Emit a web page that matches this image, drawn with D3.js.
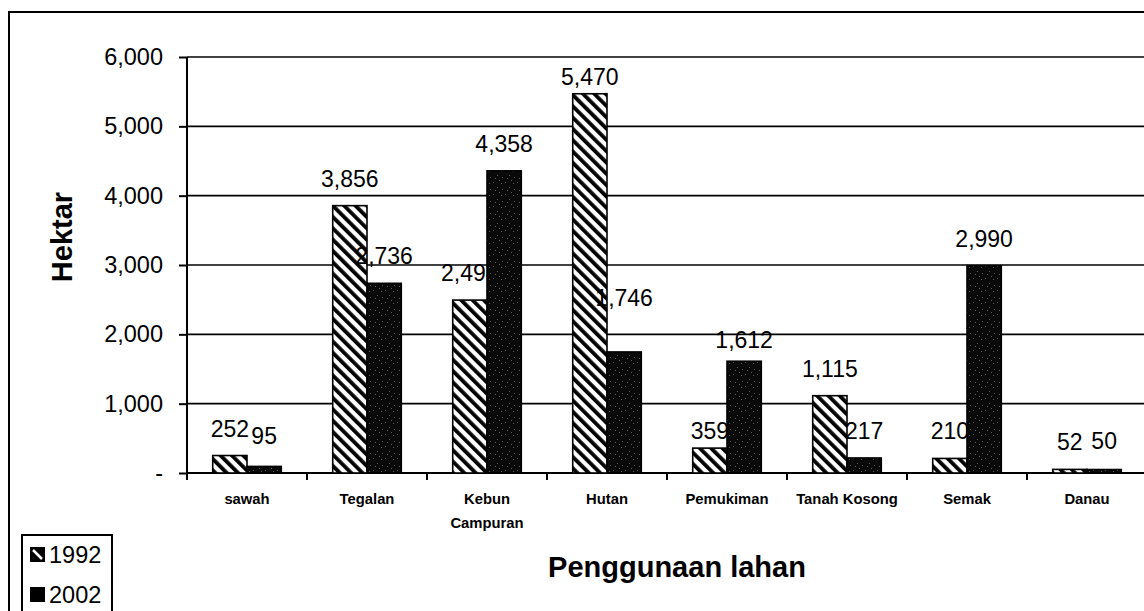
<!DOCTYPE html>
<html><head><meta charset="utf-8">
<script src="https://cdn.jsdelivr.net/npm/d3@7"></script>
<style>html,body{margin:0;padding:0;background:#fff;overflow:hidden}</style>
</head><body>
<svg id="c" width="1144" height="611"></svg>
<script>
const categories = ["sawah","Tegalan","Kebun Campuran","Hutan","Pemukiman","Tanah Kosong","Semak","Danau"];
const categoryLabels = [["sawah"],["Tegalan"],["Kebun","Campuran"],["Hutan"],["Pemukiman"],["Tanah Kosong"],["Semak"],["Danau"]];
const seriesNames = ["1992","2002"];
const values1992 = [252,3856,2494,5470,359,1115,210,52];
const values2002 = [95,2736,4358,1746,1612,217,2990,50];
const yTicks = [0,1000,2000,3000,4000,5000,6000];
const yTitle = "Hektar";
const xTitle = "Penggunaan lahan";

// layout-only: manual label nudges seen in the original (pixels)
const labelNudge = {"1992":[0,0,0,10,10,0,0,0], "2002":[-3,0,0,-27,6,0,0,-2]};

const font = "'Liberation Sans', Arial, Helvetica, sans-serif";
const svg = d3.select("#c");
const defs = svg.append("defs");

const hp = defs.append("pattern").attr("id","hatch").attr("patternUnits","userSpaceOnUse")
  .attr("width",8).attr("height",8).attr("patternTransform","rotate(-45)");
hp.append("rect").attr("width",8).attr("height",8).attr("fill","#fff");
hp.append("rect").attr("x",0).attr("y",0).attr("width",3.8).attr("height",8).attr("fill","#000");

const sp = defs.append("pattern").attr("id","speck").attr("patternUnits","userSpaceOnUse")
  .attr("width",12).attr("height",12);
sp.append("rect").attr("width",12).attr("height",12).attr("fill","#0a0a0a");
[[1,2],[5,7],[9,3],[3,10],[10,9],[7,0]].forEach(([a,b])=>
  sp.append("rect").attr("x",a).attr("y",b).attr("width",1).attr("height",1).attr("fill","#5a5a5a"));

svg.append("rect").attr("x",9).attr("y",12).attr("width",1200).attr("height",700)
  .attr("fill","none").attr("stroke","#000").attr("stroke-width",2);

const x0 = 187, x1 = 1147, yTop = 57, yBot = 473;
const x = d3.scaleBand().domain(categories).range([x0,x1]).paddingInner(1-2/3.5).paddingOuter((1-2/3.5)/2);
const xs = d3.scaleBand().domain(seriesNames).range([0,x.bandwidth()]);
const y = d3.scaleLinear().domain([0,6000]).range([yBot,yTop]);

svg.append("g").selectAll("line").data(yTicks.filter(d=>d>0)).join("line")
  .attr("x1",x0).attr("x2",x1).attr("y1",d=>y(d)).attr("y2",d=>y(d))
  .attr("stroke","#000").attr("stroke-width",1.6);

const yAxis = svg.append("g").attr("transform",`translate(${x0},0)`)
  .call(d3.axisLeft(y).tickValues(yTicks).tickSize(8).tickPadding(16)
    .tickFormat(d=> d===0 ? "-" : d3.format(",")(d)));
yAxis.select(".domain").attr("stroke","#000").attr("stroke-width",2).attr("d",`M0,${yTop}V${yBot}`);
yAxis.selectAll(".tick line").attr("stroke","#000").attr("stroke-width",2);
yAxis.selectAll(".tick text").attr("font-family",font).attr("font-size",23.5).attr("fill","#000");

svg.append("line").attr("x1",x0).attr("x2",x1).attr("y1",yBot).attr("y2",yBot)
  .attr("stroke","#000").attr("stroke-width",2);
const step = x.step(), po = x.paddingOuter()*step;
svg.append("g").selectAll("line").data(categories).join("line")
  .attr("x1",d=>x(d)-po).attr("x2",d=>x(d)-po).attr("y1",yBot).attr("y2",yBot+7)
  .attr("stroke","#000").attr("stroke-width",2);

const cl = svg.append("g").selectAll("text").data(categories).join("text")
  .attr("x",d=>x(d)+x.bandwidth()/2).attr("y",504)
  .attr("text-anchor","middle").attr("font-family",font).attr("font-weight","bold")
  .attr("font-size",14.8).attr("fill","#000");
cl.each(function(d,i){
  const t = d3.select(this);
  categoryLabels[i].forEach((s,j)=> t.append("tspan").attr("x",x(d)+x.bandwidth()/2).attr("dy",j===0?0:24).text(s));
});

const fills = {"1992":"url(#hatch)","2002":"url(#speck)"};
const seriesVals = {"1992":values1992,"2002":values2002};

function drawBars(s){
  svg.append("g").selectAll("rect").data(categories).join("rect")
    .attr("x",d=>x(d)+xs(s)).attr("width",xs.bandwidth())
    .attr("y",(d,i)=>y(seriesVals[s][i])).attr("height",(d,i)=>yBot-y(seriesVals[s][i]))
    .attr("fill",fills[s]).attr("stroke","#000").attr("stroke-width",1.6);
}
function drawLabels(s){
  svg.append("g").selectAll("text").data(categories).join("text")
    .attr("x",d=>x(d)+xs(s)+xs.bandwidth()/2)
    .attr("y",(d,i)=>y(seriesVals[s][i])-19+labelNudge[s][i])
    .attr("text-anchor","middle").attr("font-family",font).attr("font-size",23).attr("fill","#000")
    .text((d,i)=>d3.format(",")(seriesVals[s][i]));
}
drawBars("1992"); drawLabels("1992");
drawBars("2002"); drawLabels("2002");

svg.append("text").attr("transform","translate(72,237) rotate(-90)")
  .attr("text-anchor","middle").attr("font-family",font).attr("font-weight","bold")
  .attr("font-size",29).text(yTitle);
svg.append("text").attr("x",677).attr("y",577)
  .attr("text-anchor","middle").attr("font-family",font).attr("font-weight","bold")
  .attr("font-size",29).text(xTitle);

const lg = svg.append("g");
lg.append("rect").attr("x",22).attr("y",535).attr("width",90).attr("height",120)
  .attr("fill","#fff").attr("stroke","#000").attr("stroke-width",2);
seriesNames.forEach((s,i)=>{
  const cy = 555 + i*40;
  lg.append("rect").attr("x",30).attr("y",cy-8).attr("width",15).attr("height",15).attr("fill","#000");
  if(s==="1992") lg.append("line").attr("x1",33).attr("y1",cy-5).attr("x2",42).attr("y2",cy+4)
    .attr("stroke","#fff").attr("stroke-width",2.5);
  lg.append("text").attr("x",49).attr("y",cy).attr("dy","0.35em").attr("font-family",font)
    .attr("font-size",23.5).text(s);
});
</script>
</body></html>
